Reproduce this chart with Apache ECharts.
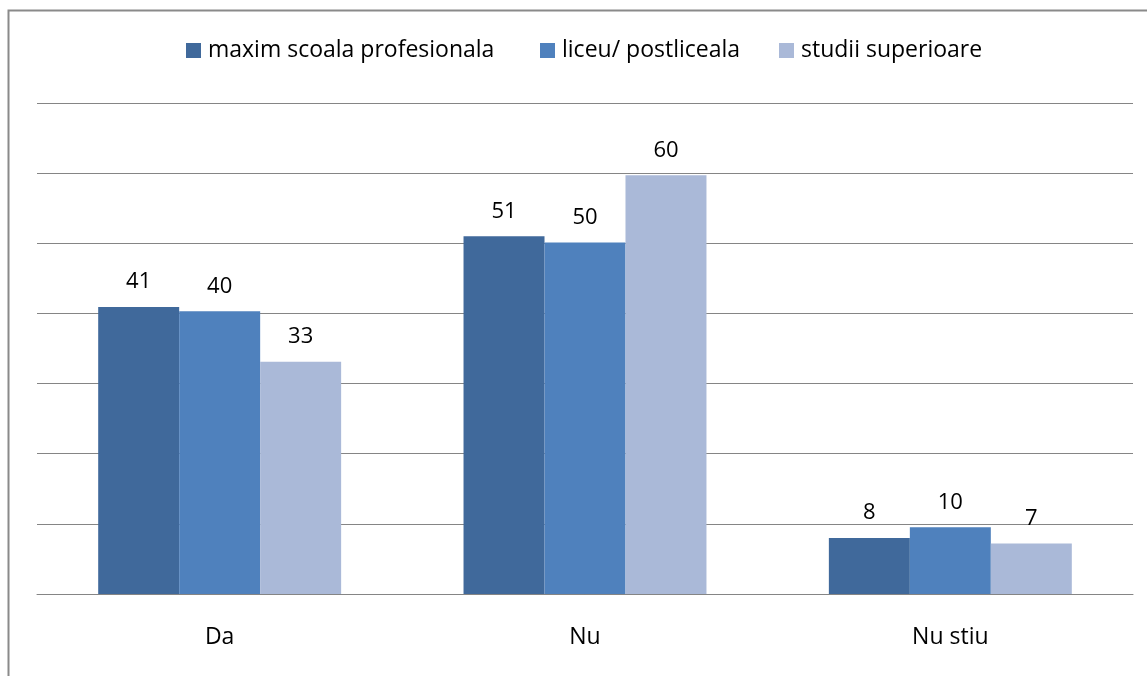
<!DOCTYPE html>
<html>
<head>
<meta charset="utf-8">
<script src="https://cdn.jsdelivr.net/npm/echarts@6/dist/echarts.min.js"></script>
<style>
html,body{margin:0;padding:0;background:#fff;}
#chart{width:1147px;height:676px;}
</style>
</head>
<body>
<div id="chart"></div>
<script>
const categories = ['Da', 'Nu', 'Nu stiu'];
const seriesNames = ['maxim scoala profesionala', 'liceu/ postliceala', 'studii superioare'];
const maximScoala = [40.9, 51.0, 8.0];
const liceu = [40.3, 50.1, 9.5];
const studiiSuperioare = [33.1, 59.7, 7.2];
const colors = ['#40699B', '#4F81BD', '#AAB9D8'];
const legendLefts = [186, 540, 779];

const FONT = '"Open Sans", "Noto Sans", sans-serif';
const chart = echarts.init(document.getElementById('chart'));
const seriesData = [maximScoala, liceu, studiiSuperioare];

const option = {
  backgroundColor: '#fff',
  animation: false,
  textStyle: { fontFamily: FONT },
  graphic: [{
    type: 'rect',
    shape: { x: 8.5, y: 10.5, width: 1200, height: 800 },
    style: { fill: 'none', stroke: '#8a8a8a', lineWidth: 2 },
    silent: true
  }],
  legend: seriesNames.map((n, i) => ({
    data: [n],
    left: legendLefts[i],
    top: 39,
    padding: 0,
    itemWidth: 15,
    itemHeight: 15,
    icon: 'rect',
    itemGap: 0,
    textStyle: { fontSize: 23, color: '#000', fontFamily: FONT, padding: [0, 0, 0, 2] }
  })),
  grid: { left: 37, right: 14, top: 103, bottom: 82 },
  xAxis: {
    type: 'category',
    data: categories,
    axisLine: { lineStyle: { color: '#858585', width: 1 } },
    axisTick: { length: 8, lineStyle: { color: '#858585' } },
    axisLabel: { fontSize: 23, color: '#000', margin: 32, fontFamily: FONT }
  },
  yAxis: {
    type: 'value',
    min: 0, max: 70, interval: 10,
    axisLine: { show: false },
    axisTick: { show: false },
    axisLabel: { show: false },
    splitLine: { lineStyle: { color: '#858585', width: 1 } }
  },
  series: seriesNames.map((n, i) => ({
    name: n,
    type: 'bar',
    data: seriesData[i],
    barGap: '0%',
    barCategoryGap: '33.5%',
    itemStyle: { color: colors[i] },
    label: {
      show: true,
      position: 'top',
      distance: 14,
      fontSize: 22,
      color: '#000',
      fontFamily: FONT,
      formatter: p => String(Math.round(p.value))
    }
  }))
};
chart.setOption(option);
</script>
</body>
</html>
